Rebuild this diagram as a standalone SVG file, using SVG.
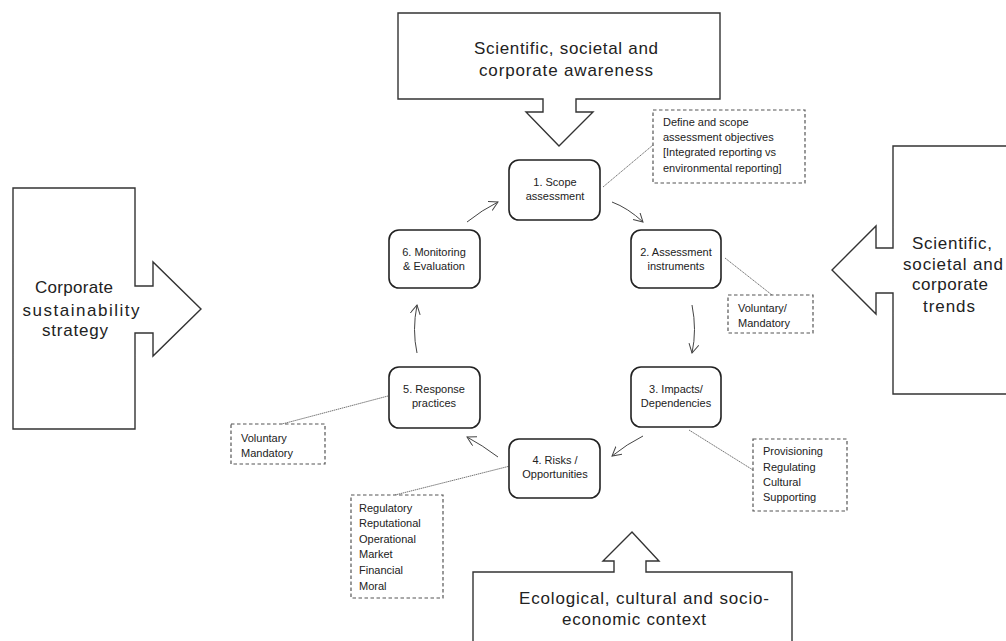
<svg xmlns="http://www.w3.org/2000/svg" width="1006" height="641" viewBox="0 0 1006 641">
<style>
.big{fill:#fff;stroke:#333;stroke-width:1.4}
.bt{font-family:"Liberation Sans",Arial,sans-serif;font-size:17px;fill:#222;text-anchor:middle}
.node rect{fill:#fff;stroke:#222;stroke-width:1.6}
.nt{font-family:"Liberation Sans",Arial,sans-serif;font-size:11px;fill:#222;text-anchor:middle}
.db{fill:#fff;stroke:#555;stroke-width:1.2;stroke-dasharray:3.5 2.5}
.st{font-family:"Liberation Sans",Arial,sans-serif;font-size:11px;fill:#222}
.lead{stroke:#666;stroke-width:0.9;fill:none;stroke-dasharray:1.5 0.6}
.arr{stroke:#444;stroke-width:1;fill:none;marker-end:url(#ah)}
</style>
<defs>
<marker id="ah" markerUnits="userSpaceOnUse" markerWidth="12" markerHeight="12" refX="9" refY="5" orient="auto">
<path d="M0,0 L9,5 L0,10" fill="none" stroke="#444" stroke-width="1"/>
</marker>
</defs>
<rect width="1006" height="641" fill="#fff"/>

<g id="top-awareness">
<path class="big" d="M398,13 H720 V99 H576 V112 H593 L559,146 L526,112 H543 V99 H398 Z"/>
<text class="bt" x="566" y="54" textLength="184" lengthAdjust="spacing">Scientific, societal and</text>
<text class="bt" x="566" y="76" textLength="174" lengthAdjust="spacing">corporate awareness</text>
</g>

<g id="left-strategy">
<path class="big" d="M13,188 H135 V286 H153 V262 L201,309 L153,356 V333 H135 V429 H13 Z"/>
<text class="bt" x="74" y="293" textLength="78" lengthAdjust="spacing">Corporate</text>
<text class="bt" x="81" y="316" textLength="117" lengthAdjust="spacing">sustainability</text>
<text class="bt" x="75" y="336" textLength="66" lengthAdjust="spacing">strategy</text>
</g>

<g id="right-trends">
<path class="big" d="M1012,146 H893 V248 H876 V226 L832,270 L876,314 V293 H893 V394 H1012"/>
<text class="bt" x="952" y="249" textLength="80" lengthAdjust="spacing">Scientific,</text>
<text class="bt" x="953" y="270" textLength="100" lengthAdjust="spacing">societal and</text>
<text class="bt" x="950" y="290" textLength="76" lengthAdjust="spacing">corporate</text>
<text class="bt" x="949" y="312" textLength="52" lengthAdjust="spacing">trends</text>
</g>

<g id="bottom-context">
<path class="big" d="M473,650 V572 H614 V561 H603 L632,532 L659,561 H646 V572 H792 V650"/>
<text class="bt" x="644" y="604" textLength="250" lengthAdjust="spacing">Ecological, cultural and socio-</text>
<text class="bt" x="634" y="625" textLength="144" lengthAdjust="spacing">economic context</text>
</g>

<g id="connectors">
<path class="arr" d="M612,202 Q628,208 643,222"/>
<path class="arr" d="M692,305 Q697,330 692,353"/>
<path class="arr" d="M643,436 Q627,444 612,456"/>
<path class="arr" d="M498,457 Q482,445 467,437"/>
<path class="arr" d="M417,353 Q412,330 417,305"/>
<path class="arr" d="M467,222 Q482,210 498,202"/>
<path class="lead" d="M603,187 L653,145"/>
<path class="lead" d="M725,258 L772,295"/>
<path class="lead" d="M689,430 L753,470"/>
<path class="lead" d="M510,466 L395,495"/>
<path class="lead" d="M388,396 L282,424"/>
</g>

<g id="node1" class="node">
<rect x="509" y="160" width="91" height="60" rx="10"/>
<text class="nt" x="555" y="186">1. Scope</text>
<text class="nt" x="555" y="200">assessment</text>
</g>
<g id="node2" class="node">
<rect x="631" y="230" width="90" height="58" rx="10"/>
<text class="nt" x="676" y="256">2. Assessment</text>
<text class="nt" x="676" y="270">instruments</text>
</g>
<g id="node3" class="node">
<rect x="631" y="367" width="90" height="60" rx="10"/>
<text class="nt" x="676" y="393">3. Impacts/</text>
<text class="nt" x="676" y="407">Dependencies</text>
</g>
<g id="node4" class="node">
<rect x="509" y="439" width="91" height="59" rx="10"/>
<text class="nt" x="555" y="464">4. Risks /</text>
<text class="nt" x="555" y="478">Opportunities</text>
</g>
<g id="node5" class="node">
<rect x="389" y="367" width="91" height="61" rx="10"/>
<text class="nt" x="434" y="393">5. Response</text>
<text class="nt" x="434" y="407">practices</text>
</g>
<g id="node6" class="node">
<rect x="389" y="230" width="91" height="58" rx="10"/>
<text class="nt" x="434" y="256">6. Monitoring</text>
<text class="nt" x="434" y="270">&amp; Evaluation</text>
</g>

<g id="note-scope">
<rect class="db" x="653" y="110" width="152" height="73"/>
<text class="st" x="663" y="126">Define and scope</text>
<text class="st" x="663" y="141">assessment objectives</text>
<text class="st" x="663" y="156">[Integrated reporting vs</text>
<text class="st" x="663" y="172">environmental reporting]</text>
</g>
<g id="note-instruments">
<rect class="db" x="728" y="295" width="85" height="38"/>
<text class="st" x="738" y="312">Voluntary/</text>
<text class="st" x="738" y="327">Mandatory</text>
</g>
<g id="note-services">
<rect class="db" x="753" y="439" width="94" height="72"/>
<text class="st" x="763" y="455">Provisioning</text>
<text class="st" x="763" y="471">Regulating</text>
<text class="st" x="763" y="486">Cultural</text>
<text class="st" x="763" y="501">Supporting</text>
</g>
<g id="note-risks">
<rect class="db" x="351" y="495" width="92" height="103"/>
<text class="st" x="359" y="512">Regulatory</text>
<text class="st" x="359" y="527">Reputational</text>
<text class="st" x="359" y="543">Operational</text>
<text class="st" x="359" y="558">Market</text>
<text class="st" x="359" y="574">Financial</text>
<text class="st" x="359" y="590">Moral</text>
</g>
<g id="note-response">
<rect class="db" x="231" y="424" width="94" height="40"/>
<text class="st" x="241" y="442">Voluntary</text>
<text class="st" x="241" y="457">Mandatory</text>
</g>
</svg>
